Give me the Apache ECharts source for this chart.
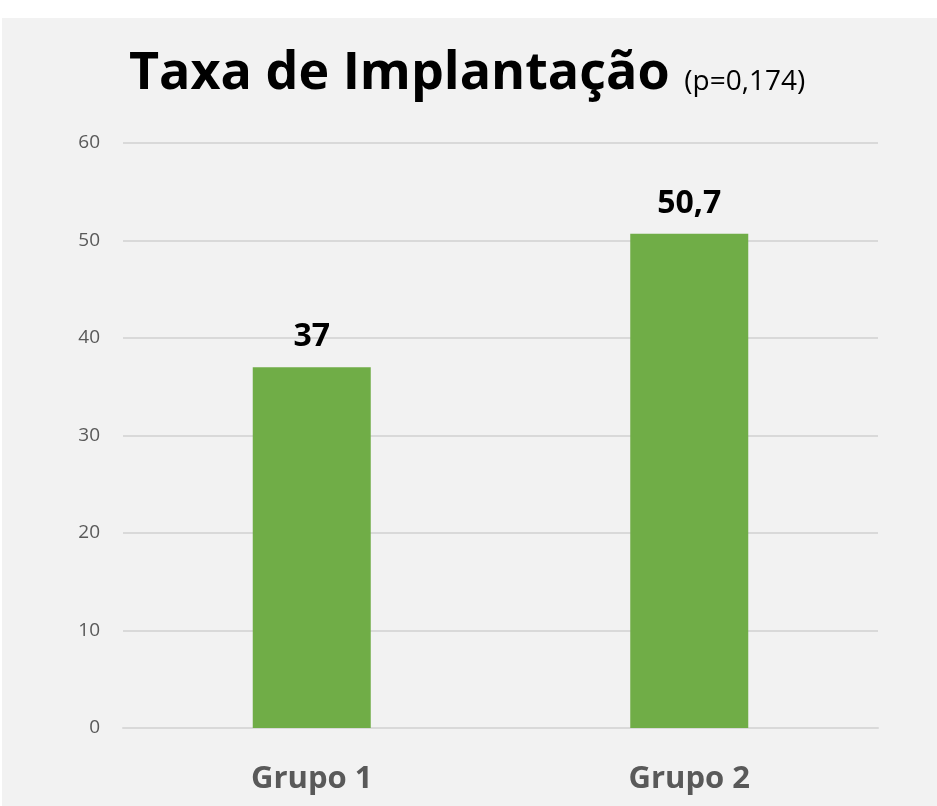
<!DOCTYPE html>
<html>
<head>
<meta charset="utf-8">
<script src="https://cdn.jsdelivr.net/npm/echarts@6/dist/echarts.min.js"></script>
<style>
  html, body { margin: 0; padding: 0; background: #fff; }
  #chart { width: 937px; height: 806px; }
</style>
</head>
<body>
<div id="chart"></div>
<script>
// dados
const categories = ['Grupo 1', 'Grupo 2'];
const taxa = [37, 50.7];
const yTicks = [0, 10, 20, 30, 40, 50, 60];

const chart = echarts.init(document.getElementById('chart'));
const FONT = '"Open Sans", "Noto Sans", sans-serif';

chart.setOption({
  animation: false,
  textStyle: { fontFamily: FONT },
  graphic: [{
    type: 'rect', z: -10, silent: true,
    shape: { x: 2, y: 18, width: 935, height: 788 },
    style: { fill: '#f2f2f2' }
  }],
  title: {
    text: '{a|Taxa de Implantação} {b|(p=0,174)}',
    left: 124, top: 43,
    textStyle: {
      rich: {
        a: { fontFamily: FONT, fontSize: 52, fontWeight: 'bold', color: '#000' },
        b: { fontFamily: FONT, fontSize: 28, fontWeight: 'normal', color: '#000', padding: [16, 0, 0, 10] }
      }
    }
  },
  grid: { left: 123, right: 59, top: 143, bottom: 78 },
  xAxis: {
    type: 'category',
    data: categories,
    axisLine: { lineStyle: { color: '#d9d9d9', width: 2 } },
    axisTick: { show: false },
    axisLabel: { color: '#595959', fontSize: 31, fontWeight: 'bold', margin: 36, fontFamily: FONT }
  },
  yAxis: {
    type: 'value',
    min: yTicks[0], max: yTicks[yTicks.length - 1], interval: 10,
    axisLine: { show: false },
    axisTick: { show: false },
    axisLabel: { color: '#595959', fontSize: 19, margin: 23, fontFamily: FONT },
    splitLine: { lineStyle: { color: '#d9d9d9', width: 2 } }
  },
  series: [{
    type: 'bar',
    data: taxa,
    barWidth: 118,
    itemStyle: { color: '#70ad47' },
    label: {
      show: true, position: 'top', distance: 14,
      color: '#000', fontSize: 32, fontWeight: 'bold', fontFamily: FONT,
      formatter: p => String(p.value).replace('.', ',')
    }
  }]
});
</script>
</body>
</html>
